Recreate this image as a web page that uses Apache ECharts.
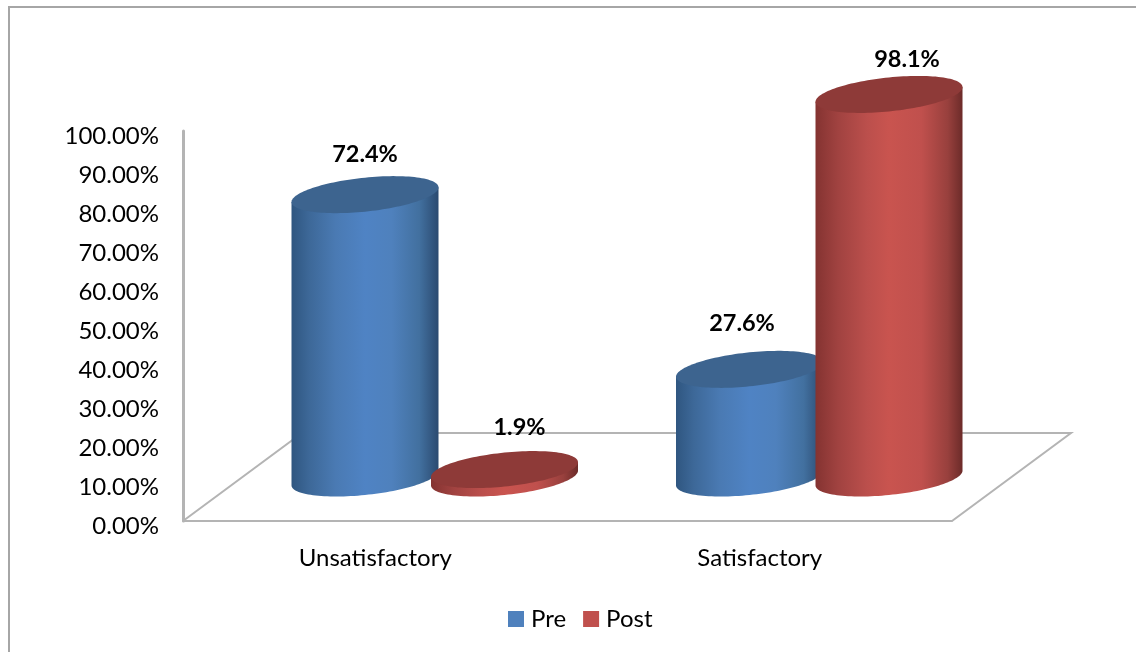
<!DOCTYPE html>
<html>
<head>
<meta charset="utf-8">
<style>
  html, body { margin: 0; padding: 0; background: #fff; }
  #chart { width: 1136px; height: 652px; }
</style>
<script src="https://cdn.jsdelivr.net/npm/echarts@6/dist/echarts.min.js"></script>
</head>
<body>
<div id="chart"></div>
<script>
const categories = ['Unsatisfactory', 'Satisfactory'];
const preValues = [72.4, 27.6];
const postValues = [1.9, 98.1];
const valueTicks = { min: 0, max: 100, interval: 10 };

// Nudges for the value labels, relative to the top centre of each cylinder.
const preLabelNudge = [[0, -40], [-7.5, -46]];
const postLabelNudge = [[15, -42], [18, -35]];

const FONT = 'Lato, Carlito, Calibri, sans-serif';
const DEPTH = { x: 119, y: -88 };
const CYL = { halfWidth: 73.5, radiusY: 17, tilt: 0.1, spacing: 69.75, baseDrop: 1 };

const chart = echarts.init(document.getElementById('chart'));

function ringPoint(cx, cy, t) {
  const dx = CYL.halfWidth * Math.cos(t);
  return [cx + dx, cy + CYL.radiusY * Math.sin(t) - CYL.tilt * dx];
}

function shaded(stops) {
  return new echarts.graphic.LinearGradient(0, 0, 1, 0,
    stops.map(s => ({ offset: s[0], color: s[1] })));
}

function cylinderRenderer(side, palette, nudges) {
  return function (params, api) {
    const idx = api.value(0);
    const val = api.value(1);
    const floor = api.coord([idx, 0]);
    const top = api.coord([idx, val]);
    const cx = floor[0] + DEPTH.x / 2 + side * CYL.spacing;
    const baseY = floor[1] + DEPTH.y / 2;
    const topY = baseY - (floor[1] - top[1]);

    const steps = 64;
    const body = [ringPoint(cx, topY, Math.PI)];
    for (let i = 0; i <= steps; i++) {
      body.push(ringPoint(cx, baseY + CYL.baseDrop, Math.PI - Math.PI * i / steps));
    }
    body.push(ringPoint(cx, topY, 0));

    const cap = [];
    for (let i = 0; i < steps * 2; i++) {
      cap.push(ringPoint(cx, topY, Math.PI * i / steps));
    }

    const nudge = nudges[params.dataIndex];
    return {
      type: 'group',
      children: [
        { type: 'polygon', shape: { points: body }, style: { fill: shaded(palette.side) } },
        { type: 'polygon', shape: { points: cap }, style: { fill: palette.cap } },
        {
          type: 'text',
          style: {
            text: val.toFixed(1) + '%',
            x: cx + nudge[0],
            y: topY + nudge[1],
            align: 'center',
            verticalAlign: 'middle',
            font: 'bold 23.5px ' + FONT,
            fill: '#000'
          }
        }
      ]
    };
  };
}

const bluePalette = {
  cap: '#3d648f',
  side: [[0, '#2f5680'], [0.12, '#3d6898'], [0.3, '#4a7ab3'], [0.5, '#4f83c4'], [0.68, '#4f81bd'], [0.87, '#42709f'], [1, '#2b4a70']]
};
const redPalette = {
  cap: '#8e3a38',
  side: [[0, '#843331'], [0.15, '#a04240'], [0.35, '#bb4f4c'], [0.5, '#c9544f'], [0.72, '#c0504d'], [0.9, '#98403d'], [1, '#6c2b29']]
};

function floorRenderer(params, api) {
  const a = api.coord([0, 0]);
  const left = params.coordSys.x;
  const right = left + params.coordSys.width;
  const y = a[1];
  return {
    type: 'polyline',
    shape: {
      points: [
        [left, y],
        [left + DEPTH.x, y + DEPTH.y],
        [right + DEPTH.x, y + DEPTH.y],
        [right, y]
      ]
    },
    style: { stroke: '#b4b4b4', lineWidth: 2, fill: 'none' },
    silent: true
  };
}

const toPairs = arr => arr.map((v, i) => [i, v]);

chart.setOption({
  animation: false,
  backgroundColor: '#fff',
  graphic: [{
    type: 'polyline',
    shape: { points: [[9, 652], [9, 7], [1136, 7]] },
    style: { stroke: '#a6a6a6', lineWidth: 2, fill: 'none' },
    silent: true
  }],
  legend: {
    data: ['Pre', 'Post'],
    icon: 'rect',
    left: 503,
    top: 602,
    itemWidth: 16,
    itemHeight: 16,
    itemGap: 17,
    textStyle: { fontFamily: FONT, fontSize: 24, color: '#000', padding: [0, 0, 0, 2] }
  },
  grid: { left: 183, top: 131, width: 769, height: 390 },
  xAxis: {
    type: 'category',
    data: categories,
    axisLine: { lineStyle: { color: '#b4b4b4', width: 2 } },
    axisTick: { show: false },
    axisLabel: { fontFamily: FONT, fontSize: 24, color: '#000', margin: 25 }
  },
  yAxis: {
    type: 'value',
    min: valueTicks.min,
    max: valueTicks.max,
    interval: valueTicks.interval,
    axisLine: { show: true, lineStyle: { color: '#b4b4b4', width: 3 } },
    axisTick: { show: false },
    splitLine: { show: false },
    axisLabel: {
      fontFamily: FONT,
      fontSize: 24,
      color: '#000',
      margin: 24,
      verticalAlign: 'top',
      lineHeight: 10,
      formatter: v => v.toFixed(2) + '%'
    }
  },
  series: [
    { type: 'custom', name: 'floor', z: 1, data: [[0, 0]], encode: { x: 0, y: 1 }, renderItem: floorRenderer, silent: true },
    { type: 'custom', name: 'Pre', z: 3, data: toPairs(preValues), encode: { x: 0, y: 1 }, itemStyle: { color: '#4f81bd' }, renderItem: cylinderRenderer(-1, bluePalette, preLabelNudge) },
    { type: 'custom', name: 'Post', z: 4, data: toPairs(postValues), encode: { x: 0, y: 1 }, itemStyle: { color: '#c0504d' }, renderItem: cylinderRenderer(1, redPalette, postLabelNudge) }
  ]
});
</script>
</body>
</html>
